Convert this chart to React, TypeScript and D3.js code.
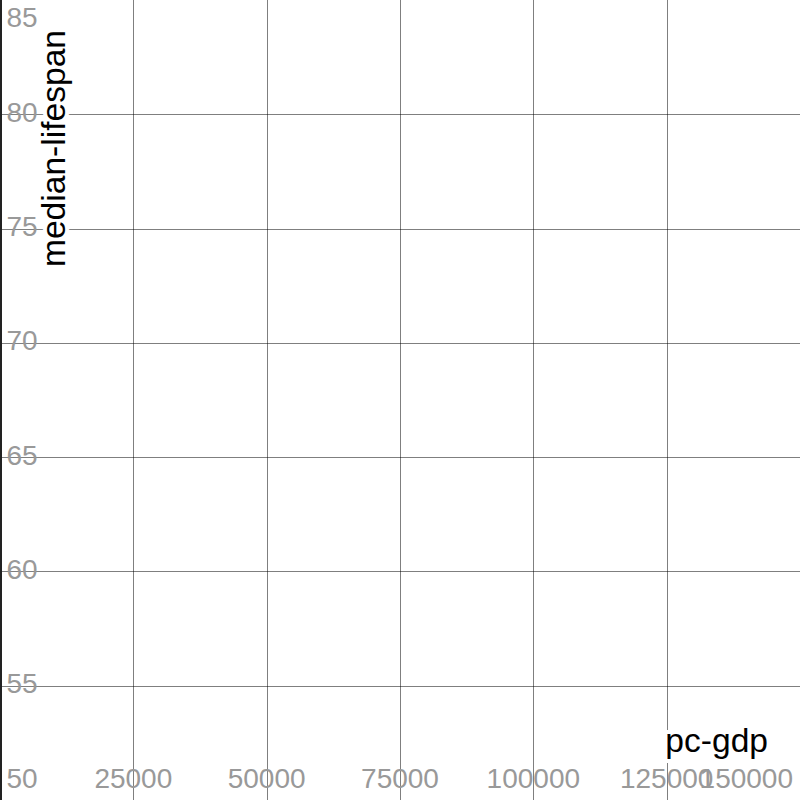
import React from "react";
import * as d3 from "d3";

const WIDTH = 800;
const HEIGHT = 800;

// axis extents and ticks
const xDomain = [0, 150000];
const yDomain = [50, 85];
const xTicks = [25000, 50000, 75000, 100000, 125000, 150000];
const yTicks = [50, 55, 60, 65, 70, 75, 80, 85];
const xTitle = "pc-gdp";
const yTitle = "median-lifespan";

const FONT = "'Liberation Sans', Arial, sans-serif";
const TICK_SIZE = 28;
const TITLE_SIZE = 33.6;

export default function App() {
  const x = d3.scaleLinear().domain(xDomain).range([0, WIDTH]);
  const y = d3.scaleLinear().domain(yDomain).range([HEIGHT, 0]);

  const clampY = (v: number) => Math.max(20, Math.min(HEIGHT - 19, v));

  return (
    <svg
      width={WIDTH}
      height={HEIGHT}
      style={{ position: "absolute", left: 0, top: 0, background: "#fff" }}
      fontFamily={FONT}
    >
      {/* grid */}
      <g stroke="#000" strokeOpacity={0.5} strokeWidth={1}>
        {xTicks
          .filter((t) => x(t) > 0 && x(t) < WIDTH)
          .map((t) => (
            <line key={`gx-${t}`} x1={Math.round(x(t)) + 0.5} x2={Math.round(x(t)) + 0.5} y1={0} y2={HEIGHT} />
          ))}
        {yTicks
          .filter((t) => y(t) > 0 && y(t) < HEIGHT)
          .map((t) => (
            <line key={`gy-${t}`} y1={Math.round(y(t)) + 0.5} y2={Math.round(y(t)) + 0.5} x1={0} x2={WIDTH} />
          ))}
      </g>

      {/* y axis line */}
      <line x1={1} x2={1} y1={0} y2={HEIGHT} stroke="#222" strokeWidth={2} />

      {/* tick labels */}
      <g fill="#999" fontSize={TICK_SIZE}>
        {yTicks.map((t) => (
          <text key={`ly-${t}`} x={6.5} y={clampY(y(t))} dominantBaseline="middle">
            {t}
          </text>
        ))}
        {xTicks.map((t) => {
          const px = x(t);
          const atEdge = px > WIDTH - 40;
          return (
            <text
              key={`lx-${t}`}
              x={atEdge ? WIDTH - 7 : px}
              y={788}
              textAnchor={atEdge ? "end" : "middle"}
            >
              {t}
            </text>
          );
        })}
      </g>

      {/* axis titles */}
      <g
        fill="#000"
        fontSize={TITLE_SIZE}
        stroke="#fff"
        strokeWidth={8}
        strokeLinejoin="round"
        style={{ paintOrder: "stroke" }}
      >
        <text x={WIDTH - 32} y={752} textAnchor="end">
          {xTitle}
        </text>
        <text transform={`translate(65,30) rotate(-90)`} textAnchor="end">
          {yTitle}
        </text>
      </g>
    </svg>
  );
}
